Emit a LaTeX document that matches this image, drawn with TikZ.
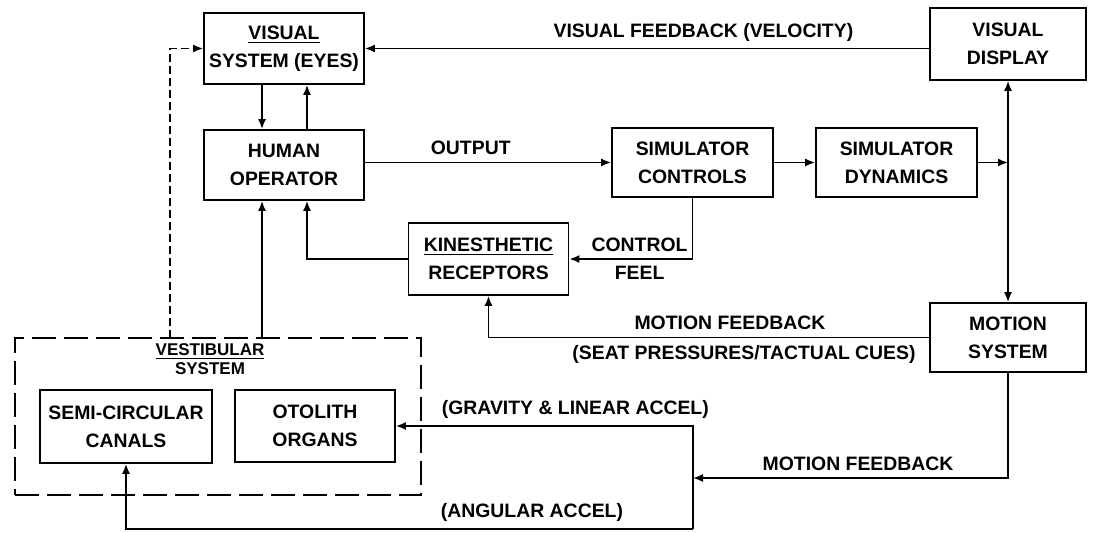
\documentclass[tikz,border=0pt]{standalone}
\usepackage{fontspec}
\setmainfont{Liberation Sans}
\usetikzlibrary{arrows.meta,positioning}

\begin{document}
\begin{tikzpicture}[x=0.5pt, y=-0.5pt,
    font=\bfseries\fontsize{9.7}{14}\selectfont,
    every node/.style={align=center},
    sysbox/.style={draw, line width=0.9pt, inner sep=0pt, minimum width=80pt, minimum height=35.5pt},
    conn/.style={line width=0.8pt, -{Latex[length=5pt,width=4pt]}}]
    \useasboundingbox (0,0) rectangle (1096,533);

    % Blocks
    \node[sysbox] (vis) at (284,48.5) {\underline{VISUAL}\\SYSTEM (EYES)};
    \node[sysbox, minimum width=78pt, minimum height=36pt] (disp) at (1008,44) {VISUAL\\DISPLAY};
    \node[sysbox, minimum height=35pt] (op) at (284,165) {HUMAN\\OPERATOR};
    \node[sysbox, minimum width=80.5pt, minimum height=34.5pt] (ctrl) at (692.5,162.5) {SIMULATOR\\CONTROLS};
    \node[sysbox, minimum width=80.5pt, minimum height=34.5pt] (dyn) at (896.5,162.5) {SIMULATOR\\DYNAMICS};
    \node[sysbox, minimum height=36pt] (kin) at (488.5,259) {\underline{KINESTHETIC}\\RECEPTORS};
    \node[sysbox, minimum width=78pt, minimum height=34.5pt] (mot) at (1008,337.5) {MOTION\\SYSTEM};

    % Vestibular system (dashed group)
    \node[draw, dash pattern=on 12pt off 4pt, line width=0.8pt, inner sep=0pt, minimum width=203pt, minimum height=78.5pt] (vest) at (218,416.5) {};
    \node[font=\bfseries\fontsize{8.5}{9.5}\selectfont] (vesttxt) at (210,359) {\underline{VESTIBULAR}\\SYSTEM};
    \node[sysbox, minimum width=86pt, minimum height=36.5pt] (semi) at (126,426.5) {SEMI-CIRCULAR\\CANALS};
    \node[sysbox, minimum height=36pt] (oto) at (315,426) {OTOLITH\\ORGANS};

    % Junctions
    \coordinate (j) at (disp.south |- dyn.east);
    \coordinate (vtap) at (170,338);
    \coordinate (k) at (693,478);
    \coordinate (bus) at (693,529);

    % Visual loop
    \draw[conn] (disp.west |- vis.east) -- node[above, pos=0.4] {VISUAL FEEDBACK (VELOCITY)} (vis.east);
    \draw[conn] ([xshift=-11pt]vis.south) -- ([xshift=-11pt]op.north);
    \draw[conn] ([xshift=11.5pt]op.north) -- ([xshift=11.5pt]vis.south);
    \draw[conn, dash pattern=on 4pt off 2pt] (vtap) |- (vis.west);

    % Forward path
    \draw[conn] (op.east |- ctrl.west) -- node[above, pos=0.43] {OUTPUT} (ctrl.west);
    \draw[conn] (ctrl) -- (dyn);
    \draw[conn] (dyn.east) -- (j);
    \draw[conn] (j) -- (disp.south);
    \draw[conn] (j) -- (mot.north);

    % Kinesthetic cues
    \draw[conn] (ctrl.south) |- node[above, pos=0.715] {CONTROL} node[below, pos=0.715] {FEEL} (kin.east);
    \draw[conn] (kin.west) -| ([xshift=11.5pt]op.south);
    \draw[conn] (mot.west) -| node[above, pos=0.226] {MOTION FEEDBACK} node[below, pos=0.21] {(SEAT PRESSURES/TACTUAL CUES)} (kin.south);

    % Vestibular cues
    \draw[conn] ([xshift=-11pt]op.south |- vest.north) -- ([xshift=-11pt]op.south);
    \draw[conn] (mot.south) |- node[above, pos=0.738] {MOTION FEEDBACK} (k);
    \draw[conn] (bus) |- node[above, pos=0.698] {(GRAVITY \& LINEAR ACCEL)} (oto.east);
    \draw[conn] (bus) -| node[above, pos=0.142] {(ANGULAR ACCEL)} (semi.south);
\end{tikzpicture}
\end{document}
